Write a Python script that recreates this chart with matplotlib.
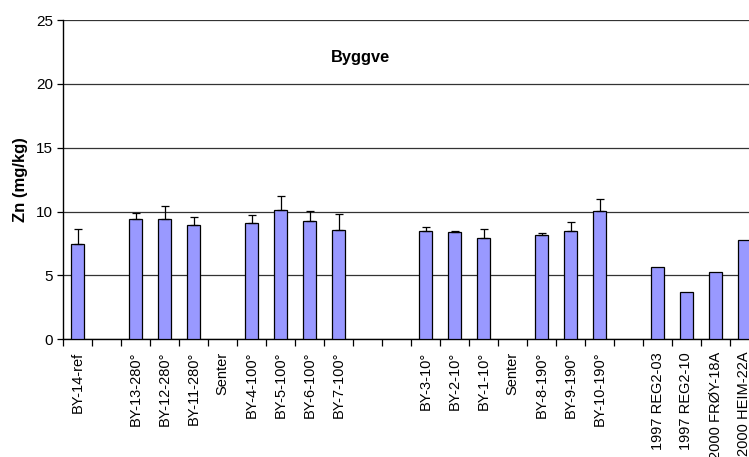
import numpy as np
import matplotlib
matplotlib.use("Agg")
import matplotlib.pyplot as plt

plt.rcParams['font.family'] = ['Liberation Sans', 'DejaVu Sans']

# categories along x (blank slots are empty gaps in the chart)
labels = ["BY-14-ref", "", "BY-13-280°", "BY-12-280°", "BY-11-280°", "Senter",
          "BY-4-100°", "BY-5-100°", "BY-6-100°", "BY-7-100°", "", "",
          "BY-3-10°", "BY-2-10°", "BY-1-10°", "Senter",
          "BY-8-190°", "BY-9-190°", "BY-10-190°", "",
          "1997 REG2-03", "1997 REG2-10", "2000 FRØY-18A", "2000 HEIM-22A"]
zn = [7.48, None, 9.39, 9.41, 8.92, None,
      9.08, 10.09, 9.28, 8.58, None, None,
      8.47, 8.42, 7.95, None,
      8.16, 8.47, 10.02, None,
      5.63, 3.73, 5.27, 7.75]
zn_err = [1.12, None, 0.52, 1.0, 0.68, None,
          0.62, 1.15, 0.78, 1.25, None, None,
          0.29, 0.08, 0.65, None,
          0.18, 0.7, 0.93, None,
          0, 0, 0, 0]

x = np.arange(len(labels))
vals = np.array([np.nan if v is None else v for v in zn])
errs = np.array([np.nan if v is None else v for v in zn_err])

fig = plt.figure(figsize=(7.49, 4.57), dpi=100)
# the plot area runs past the right edge of the picture
ax = fig.add_axes([63 / 749, 117.7 / 457, 696 / 749, 319.3 / 457])

ax.set_axisbelow(True)
ax.yaxis.grid(True, color='#333333', linewidth=0.9)

ax.bar(x, vals, width=0.42, color='#9999FF', edgecolor='black', linewidth=0.9, zorder=3)
has_err = ~np.isnan(errs) & (errs > 0)
ax.errorbar(x[has_err], vals[has_err], yerr=[np.zeros(has_err.sum()), errs[has_err]],
            fmt='none', ecolor='black', elinewidth=0.9, capsize=3, capthick=0.9, zorder=4)

ax.set_xlim(-0.5, len(labels) - 0.5)
ax.set_ylim(0, 25)
ax.set_yticks([0, 5, 10, 15, 20, 25])
ax.set_xticks(x)
ax.set_xticklabels(labels, rotation=90, fontsize=10.5)
ax.set_xticks(np.arange(-0.5, len(labels), 1), minor=True)
ax.tick_params(axis='x', which='major', length=0, pad=9)
ax.tick_params(axis='x', which='minor', length=5, width=0.9, direction='out')
ax.tick_params(axis='y', length=4, width=0.9, labelsize=11, pad=3)

for side in ['top', 'right']:
    ax.spines[side].set_visible(False)
ax.spines['left'].set_linewidth(1.0)
ax.spines['bottom'].set_linewidth(1.0)

ax.set_ylabel('Zn (mg/kg)', fontsize=12, fontweight='bold', labelpad=6)
ax.text(9.75, 22.1, 'Byggve', fontsize=11.8, fontweight='bold', ha='center', va='center')

fig.savefig('out.png', dpi=100)
